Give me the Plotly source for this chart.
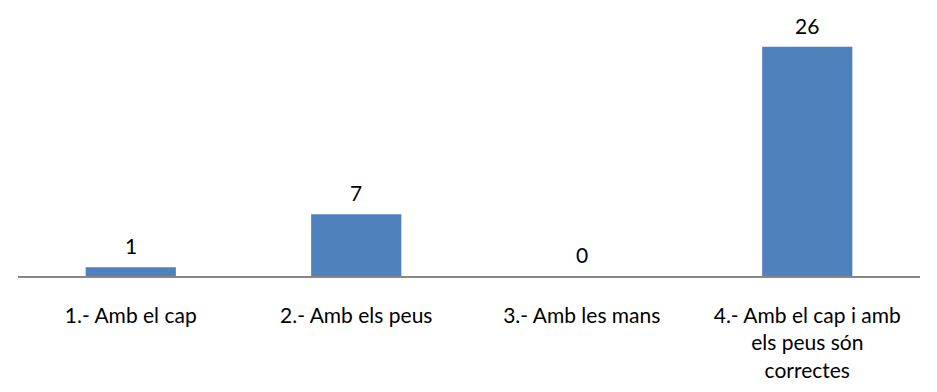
import plotly.graph_objects as go

categories = [
    "1.- Amb el cap",
    "2.- Amb els peus",
    "3.- Amb les mans",
    "4.- Amb el cap i amb<br>els peus són<br>correctes",
]
counts = [1, 7, 0, 26]

fig = go.Figure()

# bars
fig.add_trace(go.Bar(
    x=categories,
    y=counts,
    marker=dict(color="#4F81BD", line=dict(width=0)),
    showlegend=False,
))

# value labels above each bar
for cat, val in zip(categories, counts):
    fig.add_annotation(
        x=cat, y=val, text=str(val),
        showarrow=False, yanchor="bottom", yshift=7,
        font=dict(size=21, color="#000000", family="Lato"),
    )

# page body has an 8px margin, so the figure is a bit smaller than the window
fig.update_layout(
    width=929,
    height=384,
    margin=dict(l=10, r=17, t=21, b=111),
    paper_bgcolor="white",
    plot_bgcolor="white",
    bargap=0.6,
    font=dict(family="Lato", size=21, color="#000000"),
    xaxis=dict(
        showline=True, linecolor="#868686", linewidth=1.5,
        ticks="", showgrid=False, ticklabelstandoff=20,
    ),
    yaxis=dict(
        range=[0, 28], visible=False, showgrid=False, zeroline=False,
    ),
)

fig.write_html("out.html")
